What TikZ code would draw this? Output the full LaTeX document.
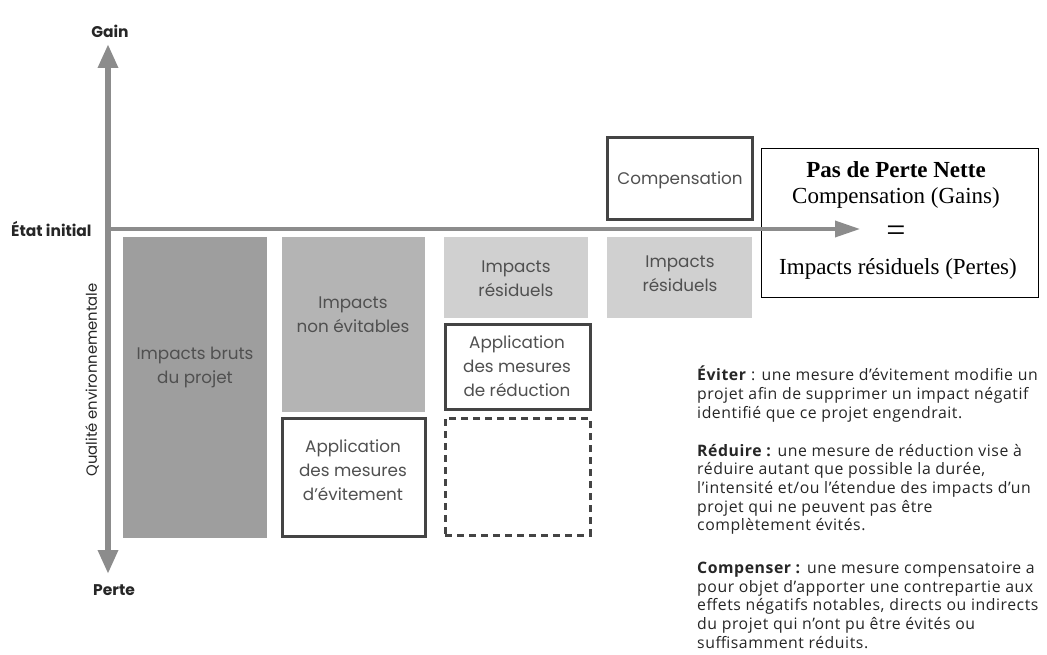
\documentclass[tikz,border=0pt]{standalone}
\usepackage{fontspec}
\setmainfont{Liberation Serif}
\newfontfamily\boxfont{Poppins}
\newfontfamily\bodyfont[LetterSpace=3.5]{Open Sans}
\usetikzlibrary{arrows.meta}
\definecolor{axisgray}{HTML}{8C8C8C}
\definecolor{darkfill}{HTML}{9E9E9E}
\definecolor{midfill}{HTML}{B4B4B4}
\definecolor{lightfill}{HTML}{D0D0D0}
\definecolor{edgegray}{HTML}{444444}
\definecolor{txtgray}{HTML}{505050}
\tikzset{
  x=1pt,y=-1pt,
  blk/.style={anchor=north west,inner sep=0pt,outer sep=0pt,draw=none},
  framed/.style={blk,draw=edgegray,line width=3pt},
  dashframe/.style={framed,dash pattern=on 7pt off 5pt},
  boxtxt/.style={text=txtgray,font=\boxfont\fontsize{16.8}{24}\selectfont,align=center},
  axislbl/.style={inner sep=0pt,font=\boxfont\bfseries\fontsize{15.5}{18}\selectfont,text=black!85},
}
\begin{document}
\begin{tikzpicture}
\useasboundingbox (0,0) rectangle (1047,655);
\fill[white] (0,0) rectangle (1047,655);
% column 1
\node[blk,fill=darkfill,minimum width=144pt,minimum height=301pt] (bruts) at (123,237) {};
\node[boxtxt] (brutstxt) at (195,367) {Impacts bruts\\du projet};
% column 2
\node[blk,fill=midfill,minimum width=143pt,minimum height=175pt] (nonev) at (282,237) {};
\node[boxtxt] (nonevtxt) at (353,315) {Impacts\\non évitables};
\node[framed,minimum width=143pt,minimum height=118pt] (evit) at (282,418) {};
\node[boxtxt] (evittxt) at (353,470) {Application\\des mesures\\d’évitement};
% column 3
\node[blk,fill=lightfill,minimum width=144pt,minimum height=81pt] (resid1) at (444,237) {};
\node[boxtxt] (resid1txt) at (516,279) {Impacts\\résiduels};
\node[framed,minimum width=145pt,minimum height=85pt] (reduc) at (445,324) {};
\node[boxtxt] (reductxt) at (517,366) {Application\\des mesures\\de réduction};
\node[dashframe,minimum width=145pt,minimum height=117pt] (empty) at (445,418) {};
% column 4
\node[blk,fill=lightfill,minimum width=145pt,minimum height=81pt] (resid2) at (607,237) {};
\node[boxtxt] (resid2txt) at (680,274) {Impacts\\résiduels};
\node[framed,minimum width=145pt,minimum height=82pt] (comp) at (607,138) {};
\node[boxtxt] (comptxt) at (680,180) {Compensation};
% net loss box
\node[anchor=north west,draw=black,line width=1pt,minimum width=277pt,minimum height=149pt,inner sep=0pt] (ppn) at (761,148) {};
\node[font=\bfseries\fontsize{23}{26}\selectfont] (ppn1) at (896,170) {Pas de Perte Nette};
\node[font=\fontsize{23}{26}\selectfont] (ppn2) at (896,198) {Compensation (Gains)};
\node[font=\fontsize{34}{34}\selectfont] (ppn3) at (896,234) {=};
\node[font=\fontsize{23}{26}\selectfont] (ppn4) at (898,269) {Impacts résiduels (Pertes)};
% axes
\coordinate (vtop) at (108,44);
\coordinate (vbot) at (108,574);
\coordinate (horg) at (106,229);
\coordinate (hend) at (860,229);
\draw[axisgray,line width=6pt,{Triangle[width=19pt,length=24pt]}-{Triangle[width=19pt,length=24pt]}] (vtop) -- (vbot);
\draw[axisgray,line width=3.5pt,-{Triangle[width=16pt,length=25pt]}] (horg) -- (hend);
\node[axislbl] (gain) at (110,31) {Gain};
\node[axislbl] (perte) at (114,590) {Perte};
\node[axislbl,anchor=west] (etat) at (11,229) {État initial};
\node[inner sep=0pt,font=\boxfont\fontsize{14.8}{16}\selectfont,text=black!85,rotate=90] (qual) at (92,380) {Qualité environnementale};
% definitions
\node[anchor=north west,inner sep=0pt,align=left,text=black!85,font=\bodyfont\fontsize{15.8}{18.7}\selectfont] (defs) at (697,366) {%
\textbf{Éviter} : une mesure d’évitement modifie un\\
projet afin de supprimer un impact négatif\\
identifié que ce projet engendrait.\\[19pt]
\textbf{Réduire :} une mesure de réduction vise à\\
réduire autant que possible la durée,\\
l’intensité et/ou l’étendue des impacts d’un\\
projet qui ne peuvent pas être\\
complètement évités.\\[24pt]
\textbf{Compenser :} une mesure compensatoire a\\
pour objet d’apporter une contrepartie aux\\
effets négatifs notables, directs ou indirects\\
du projet qui n’ont pu être évités ou\\
suffisamment réduits.};
\end{tikzpicture}
\end{document}
